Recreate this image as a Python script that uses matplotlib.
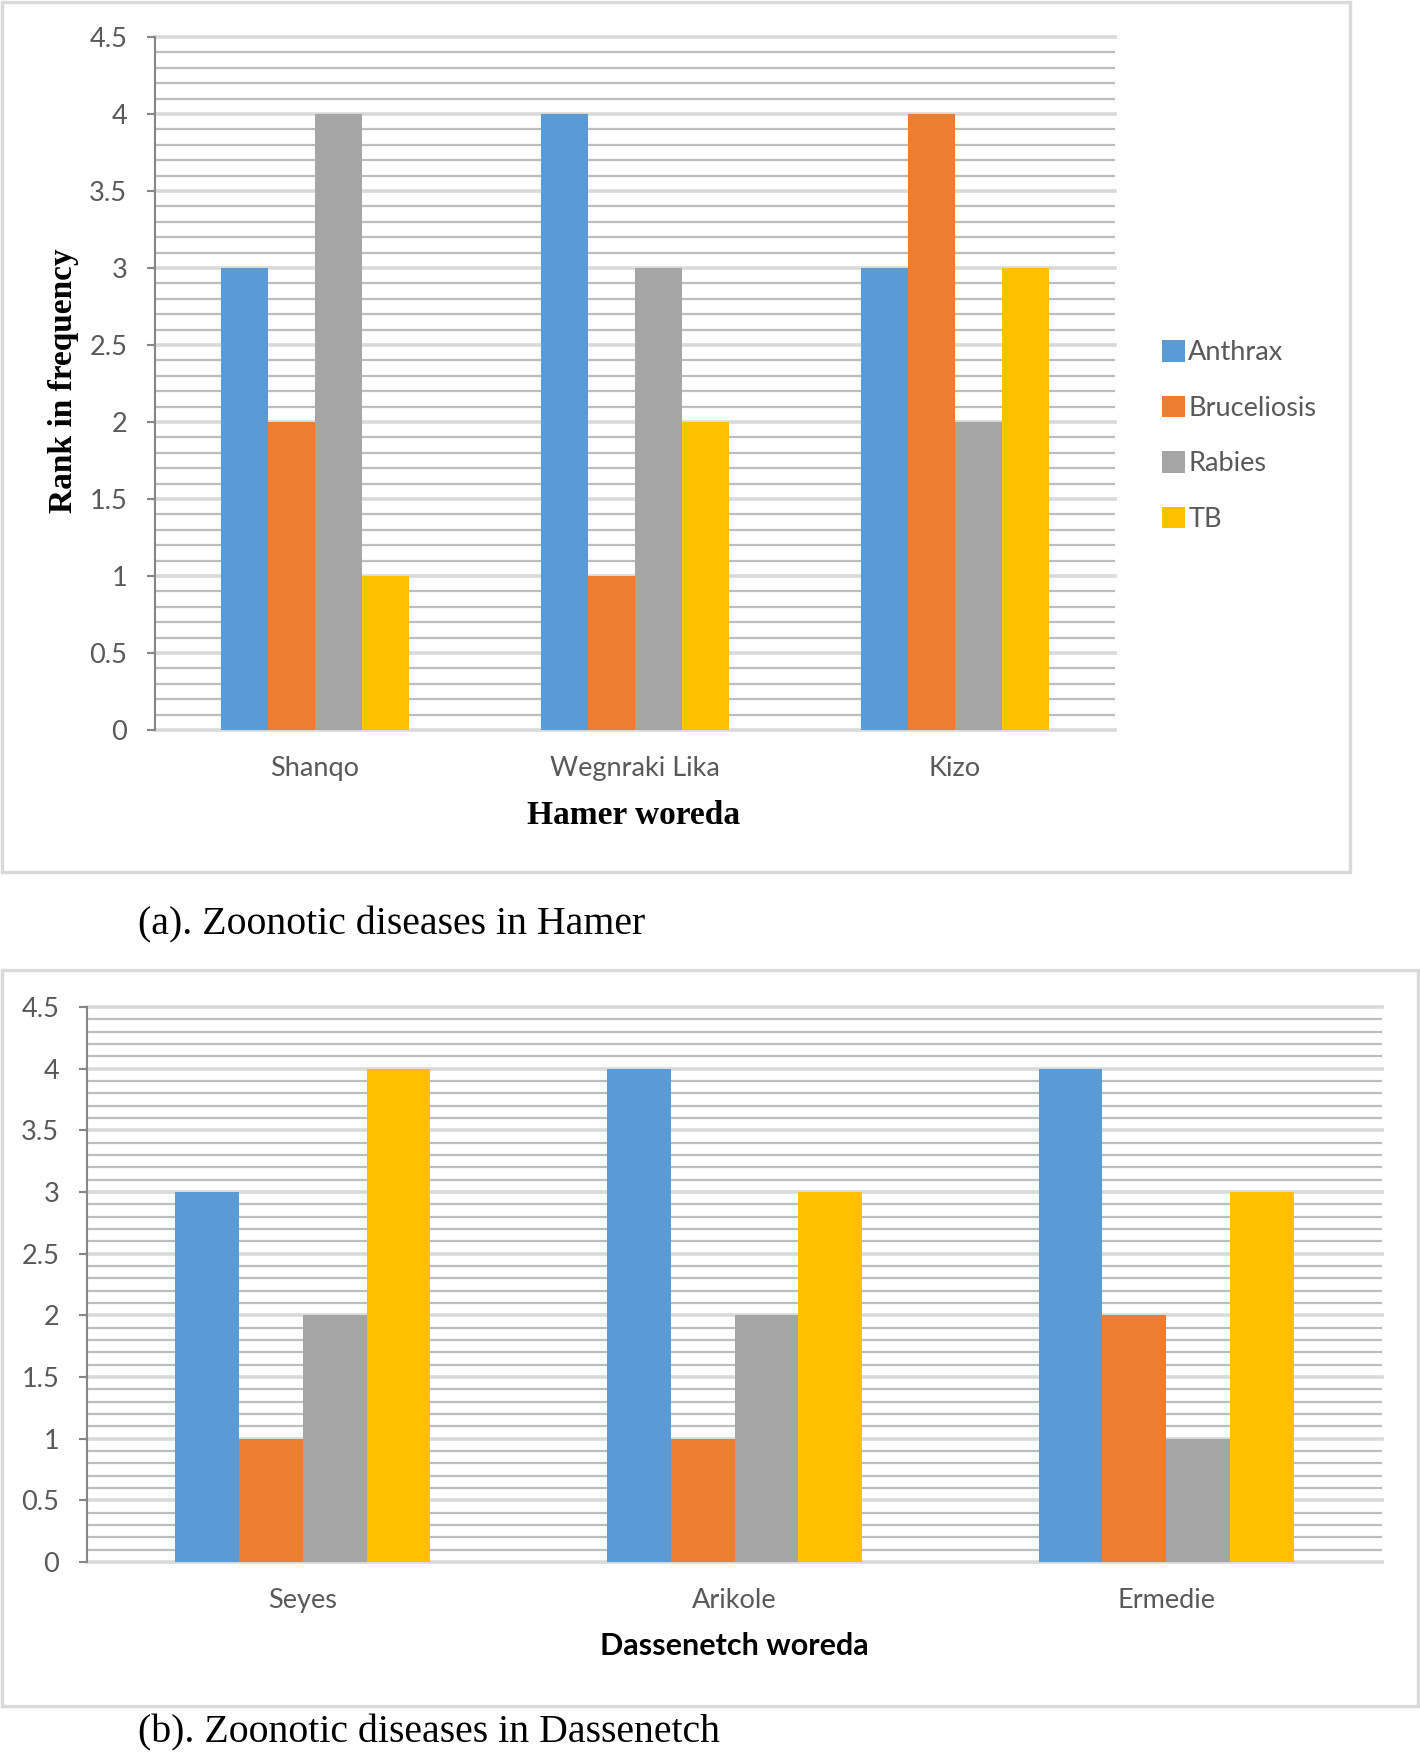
import matplotlib
matplotlib.use('Agg')
import matplotlib.pyplot as plt
import numpy as np
from matplotlib.ticker import MultipleLocator
from matplotlib.patches import Rectangle

diseases = ['Anthrax', 'Bruceliosis', 'Rabies', 'TB']
colors = ['#5B9BD5', '#ED7D31', '#A5A5A5', '#FFC000']

hamer_sites = ['Shanqo', 'Wegnraki Lika', 'Kizo']
hamer_anthrax = [3, 4, 3]
hamer_brucel = [2, 1, 4]
hamer_rabies = [4, 3, 2]
hamer_tb = [1, 2, 3]

dass_sites = ['Seyes', 'Arikole', 'Ermedie']
dass_anthrax = [3, 4, 4]
dass_brucel = [1, 1, 2]
dass_rabies = [2, 2, 1]
dass_tb = [4, 3, 3]

W, H = 1420, 1757
fig = plt.figure(figsize=(W / 100, H / 100), dpi=100)
fig.patch.set_facecolor('white')


def box(px_l, px_t, px_r, px_b):
    # figure-fraction rect from pixel edges
    return [px_l / W, 1 - px_b / H, (px_r - px_l) / W, (px_b - px_t) / H]


def draw(ax, sites, series, tick_font):
    x = np.arange(len(sites))
    w = 0.1475
    for i, (vals, c, name) in enumerate(zip(series, colors, diseases)):
        ax.bar(x + (i - 1.5) * w, vals, width=w, color=c, label=name, zorder=3)
    ax.set_xlim(-0.5, len(sites) - 0.5)
    ax.set_ylim(0, 4.5)
    ax.yaxis.set_major_locator(MultipleLocator(0.5))
    ax.yaxis.set_minor_locator(MultipleLocator(0.1))
    ax.yaxis.set_major_formatter(lambda v, p: '%g' % v)
    ax.set_axisbelow(True)
    ax.grid(which='minor', axis='y', color='#BDBDBD', lw=1.6)
    ax.grid(which='major', axis='y', color='#D9D9D9', lw=2.6)
    for ln in ax.get_ygridlines():
        ln.set_clip_on(False)
    ax.set_xticks(x)
    ax.set_xticklabels(sites)
    for s in ['top', 'right', 'bottom']:
        ax.spines[s].set_visible(False)
    ax.spines['left'].set_color('#868686')
    ax.spines['left'].set_linewidth(1.5)
    ax.tick_params(axis='x', length=0, pad=19, labelsize=19.5, labelcolor='#595959')
    ax.tick_params(axis='y', which='major', length=6, width=1.5, color='#868686',
                   pad=14, labelsize=19.5, labelcolor='#595959')
    ax.tick_params(axis='y', which='minor', length=0)
    for lab in ax.get_xticklabels() + ax.get_yticklabels():
        lab.set_family(tick_font)


# panel frames
fig.patches.append(Rectangle((2 / W, 1 - 872 / H), 1348 / W, 870 / H, transform=fig.transFigure,
                             fill=False, edgecolor='#D9D9D9', lw=2.5))
fig.patches.append(Rectangle((2 / W, 1 - 1706 / H), 1416 / W, 736 / H, transform=fig.transFigure,
                             fill=False, edgecolor='#D9D9D9', lw=2.5))

ax1 = fig.add_axes(box(155, 37, 1115, 730))
draw(ax1, hamer_sites, [hamer_anthrax, hamer_brucel, hamer_rabies, hamer_tb], 'Lato')
fig.text(64 / W, 1 - 381 / H, 'Rank in frequency', rotation=90, ha='center', va='center',
         family='Liberation Serif', weight='bold', fontsize=24)
fig.text(634 / W, 1 - 815 / H, 'Hamer woreda', ha='center', va='center',
         family='Liberation Serif', weight='bold', fontsize=24)
ax1.legend(loc='center left', bbox_to_anchor=(1162 / W, 1 - 436 / H),
           bbox_transform=fig.transFigure, frameon=False, borderpad=0, borderaxespad=0,
           handlelength=0.85, handleheight=0.85, handletextpad=0.12, labelspacing=1.12,
           prop={'family': 'Lato', 'size': 19.5}, labelcolor='#595959')

ax2 = fig.add_axes(box(87, 1007, 1382, 1562))
draw(ax2, dass_sites, [dass_anthrax, dass_brucel, dass_rabies, dass_tb], 'Lato')
fig.text(734 / W, 1 - 1646 / H, 'Dassenetch woreda', ha='center', va='center',
         family='Lato', weight='bold', fontsize=22)

fig.text(138 / W, 1 - 925 / H, '(a). Zoonotic diseases in Hamer', ha='left', va='center',
         family='Liberation Serif', fontsize=28.6)
fig.text(138 / W, 1 - 1733 / H, '(b). Zoonotic diseases in Dassenetch', ha='left', va='center',
         family='Liberation Serif', fontsize=28.6)

fig.savefig('out.png', dpi=100)
